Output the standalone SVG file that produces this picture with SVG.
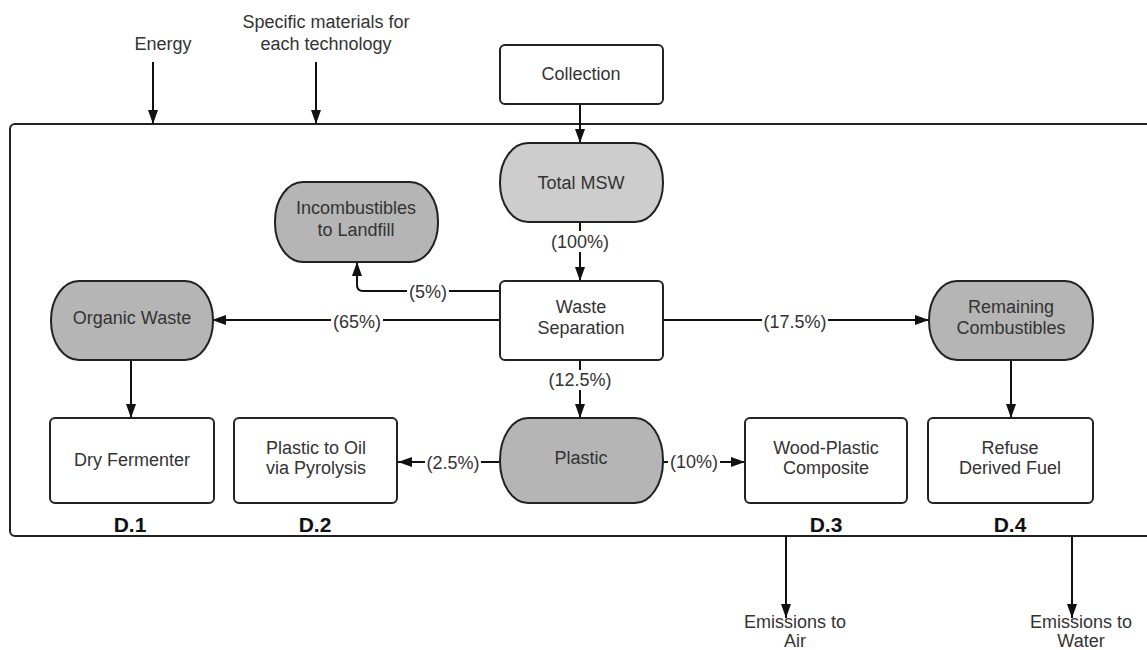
<svg xmlns="http://www.w3.org/2000/svg" width="1147" height="650" viewBox="0 0 1147 650">
<defs>
<marker id="ah" viewBox="0 0 14 10" refX="14" refY="5" markerWidth="14" markerHeight="10" markerUnits="userSpaceOnUse" orient="auto">
<path d="M0,0 L14,5 L0,10 z" fill="#111"/>
</marker>
</defs>
<style>
text{font-family:"Liberation Sans",Arial,sans-serif;font-size:18px;fill:#333;text-anchor:middle}
.box{fill:#fff;stroke:#222;stroke-width:2}
.term{fill:#b5b5b5;stroke:#222;stroke-width:2}
.light{fill:#cdcdcd}
.frame{fill:none;stroke:#222;stroke-width:2}
.c{fill:none;stroke:#111;stroke-width:2}
.ca{fill:none;stroke:#111;stroke-width:2;marker-end:url(#ah)}
.d{font-weight:bold;font-size:21px;fill:#111}
</style>
<rect width="1147" height="650" fill="#fff"/>
<g id="frame"><rect class="frame" x="10" y="124" width="1160" height="412" rx="5"/></g>
<g id="inputs">
<text x="163" y="50">Energy</text>
<text x="326" y="28">Specific materials for</text>
<text x="326" y="50">each technology</text>
</g>
<g id="outputs">
<text x="795" y="628">Emissions to</text>
<text x="795" y="647">Air</text>
<text x="1081" y="628">Emissions to</text>
<text x="1081" y="647">Water</text>
</g>
<g id="connectors">
<path class="ca" d="M153,62 V124"/>
<path class="ca" d="M316,62 V124"/>
<path class="ca" d="M580,104 V143"/>
<path class="c" d="M580,222 V231"/>
<path class="ca" d="M580,252 V281"/>
<path class="c" d="M499,291 H449"/>
<path class="ca" d="M407,291 H363 Q357,291 357,285 V262"/>
<path class="c" d="M499,320 H383"/>
<path class="ca" d="M331,320 H212"/>
<path class="c" d="M662,320 H762"/>
<path class="ca" d="M828,320 H929"/>
<path class="c" d="M580,360 V370"/>
<path class="ca" d="M580,390 V418"/>
<path class="c" d="M499,462 H481"/>
<path class="ca" d="M425,462 H398"/>
<path class="c" d="M662,462 H668"/>
<path class="ca" d="M720,462 H745"/>
<path class="ca" d="M131,360 V418"/>
<path class="ca" d="M1011,360 V418"/>
<path class="ca" d="M786,536 V618"/>
<path class="ca" d="M1072,536 V618"/>
<text x="580" y="247.5">(100%)</text>
<text x="428" y="298">(5%)</text>
<text x="357" y="328">(65%)</text>
<text x="795" y="328">(17.5%)</text>
<text x="580" y="386">(12.5%)</text>
<text x="453" y="469">(2.5%)</text>
<text x="694" y="468">(10%)</text>
</g>
<g id="collection"><rect class="box" x="500" y="45" width="163" height="59" rx="5"/><text x="581" y="80">Collection</text></g>
<g id="total-msw"><rect class="term light" x="500" y="143" width="163" height="79" rx="28" ry="39"/><text x="581" y="189">Total MSW</text></g>
<g id="incombustibles"><rect class="term" x="275" y="182" width="163" height="80" rx="28" ry="39"/><text x="356" y="214">Incombustibles</text><text x="356" y="236">to Landfill</text></g>
<g id="waste-separation"><rect class="box" x="500" y="281" width="163" height="79" rx="5"/><text x="581" y="313">Waste</text><text x="581" y="334">Separation</text></g>
<g id="organic-waste"><rect class="term" x="51" y="281" width="162" height="79" rx="28" ry="39"/><text x="132" y="324">Organic Waste</text></g>
<g id="remaining-combustibles"><rect class="term" x="929" y="281" width="164" height="79" rx="28" ry="39"/><text x="1011" y="313">Remaining</text><text x="1011" y="334">Combustibles</text></g>
<g id="dry-fermenter"><rect class="box" x="50" y="418" width="164" height="85" rx="5"/><text x="132" y="466">Dry Fermenter</text></g>
<g id="plastic-to-oil"><rect class="box" x="234" y="418" width="163" height="85" rx="5"/><text x="316" y="454">Plastic to Oil</text><text x="316" y="474">via Pyrolysis</text></g>
<g id="plastic"><rect class="term" x="500" y="418" width="163" height="85" rx="28" ry="42"/><text x="581" y="464">Plastic</text></g>
<g id="wood-plastic"><rect class="box" x="745" y="418" width="162" height="85" rx="5"/><text x="826" y="454">Wood-Plastic</text><text x="826" y="474">Composite</text></g>
<g id="rdf"><rect class="box" x="928" y="418" width="165" height="85" rx="5"/><text x="1010" y="454">Refuse</text><text x="1010" y="474">Derived Fuel</text></g>
<g id="labels">
<text class="d" x="130" y="532">D.1</text>
<text class="d" x="315" y="532">D.2</text>
<text class="d" x="826" y="532">D.3</text>
<text class="d" x="1010" y="532">D.4</text>
</g>
</svg>
